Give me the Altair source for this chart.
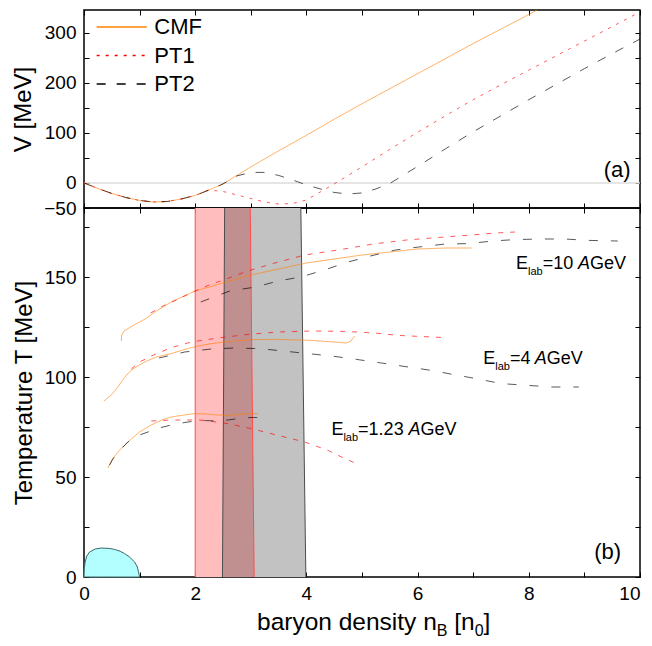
import altair as alt
import pandas as pd

FONT = "Liberation Sans"

# ---------------- data ----------------
models = ["CMF", "PT1", "PT2"]
model_colors = ["#ff8000", "#ff0000", "#000000"]

# panel (a): potential V [MeV] versus n_B [n0]
va_cmf_x = [0, 0.25, 0.5, 0.75, 1.0, 1.25, 1.5, 1.75, 2.0, 2.25, 2.5, 2.75, 3.0, 3.5, 4.0, 4.5, 5.0, 6.0, 7.0, 8.0, 8.4]
va_cmf_v = [0, -11, -21, -29, -35, -38, -37, -32, -25, -14, -2, 15, 32, 64, 95, 127, 158, 218, 278, 336, 360]
va_pt1_x = [0, 0.25, 0.5, 0.75, 1.0, 1.25, 1.5, 1.75, 2.0, 2.25, 2.5, 2.75, 3.0, 3.25, 3.5, 3.75, 4.0, 4.25, 4.5, 4.75,
            5.0, 5.5, 6.0, 6.5, 7.0, 7.5, 8.0, 8.5, 9.0, 9.5, 10.0]
va_pt1_v = [0, -11, -21, -29, -35, -38, -37, -32, -25, -14, -17, -24, -31, -38, -42, -41, -34, -18, -2, 15,
            32, 67, 101, 134, 166, 196, 225, 254, 283, 312, 341]
va_pt2_x = [0, 0.25, 0.5, 0.75, 1.0, 1.25, 1.5, 1.75, 2.0, 2.25, 2.5, 2.75, 3.0, 3.25, 3.5, 3.75, 4.0, 4.25, 4.5, 4.75,
            5.0, 5.25, 5.5, 6.0, 6.5, 7.0, 7.5, 8.0, 8.5, 9.0, 9.5, 10.0]
va_pt2_v = [0, -11, -21, -29, -35, -38, -37, -32, -25, -14, -2, 14, 21, 21, 15, 6, -4, -12, -19, -22,
            -20, -12, -1, 33, 68, 102, 134, 166, 197, 228, 258, 287]
zero_x = [0, 10]
zero_v = [0, 0]

# panel (b): trajectories T [MeV] versus n_B [n0]
cmf10_x = [0.67, 0.68, 0.72, 0.9, 1.1, 1.3, 1.6, 2.0, 2.5, 3.0, 3.5, 4.0, 4.5, 5.0, 5.5, 6.0, 6.5, 6.97]
cmf10_t = [118, 121, 123, 126, 129, 133, 138, 143, 147, 151, 154, 157, 159, 161, 162.5, 164, 164.5, 164.5]
pt1_10_x = [1.2, 1.42, 1.7, 1.96, 2.25, 2.53, 2.89, 3.43, 3.97, 4.57, 5.2, 5.8, 6.25, 6.97, 7.4, 7.75]
pt1_10_t = [132, 135.5, 139, 142.5, 146, 148.7, 152.5, 157, 161, 163.5, 166.5, 168.5, 169.5, 171, 172, 172.5]
pt2_10_x = [2.1, 2.62, 3.09, 3.49, 3.9, 4.32, 4.75, 5.18, 5.6, 6.02, 6.5, 6.92, 7.35, 7.75, 8.23, 8.65, 9.08, 9.6]
pt2_10_t = [137.5, 143, 145, 148, 150, 153.5, 157.5, 160.7, 163.5, 165, 166.5, 166.7, 168, 168.7, 169, 169, 168.3, 168]

cmf4_x = [0.36, 0.49, 0.61, 0.67, 0.78, 0.88, 1.09, 1.3, 1.57, 1.8, 2.05, 2.3, 2.53, 3.01, 3.49, 4.09, 4.5, 4.72, 4.8, 4.87]
cmf4_t = [88, 91, 95, 97.5, 101.5, 104, 107.5, 110, 111.7, 113.7, 115.5, 116.7, 117.5, 118.7, 118.8, 118.3, 117.5, 117, 118, 120.5]
pt1_4_x = [0.85, 1.0, 1.21, 1.57, 1.93, 2.41, 2.95, 3.49, 4.09, 4.69, 5.23, 5.65, 6.1, 6.49]
pt1_4_t = [104, 107.5, 110.5, 114.7, 117.5, 119.5, 121.3, 122.5, 123, 122.8, 122, 120.8, 120.2, 119.7]
pt2_4_x = [1.35, 1.81, 2.29, 2.71, 3.16, 3.58, 4.03, 4.48, 4.9, 5.35, 5.83, 6.25, 6.69, 7.09, 7.5, 7.99, 8.4, 8.9]
pt2_4_t = [109.5, 112.5, 114, 114.5, 114.2, 113, 111.7, 110.4, 108.8, 107, 105, 103.3, 101, 99, 96.7, 95.8, 95, 95]

cmf123_x = [0.43, 0.5, 0.61, 0.73, 0.85, 1.0, 1.21, 1.4, 1.57, 1.8, 1.99, 2.2, 2.41, 2.6, 2.77, 2.95, 3.13]
cmf123_t = [54.5, 58.5, 62.5, 66, 69, 72.5, 76, 78.5, 80, 81, 81.7, 81.5, 81, 80.8, 81.2, 81.7, 81.7]
pt1_123_x = [1.21, 1.6, 2.0, 2.17, 2.59, 3.01, 3.49, 3.97, 4.39, 4.69, 4.9]
pt1_123_t = [78, 78.5, 78.5, 78.3, 76.7, 74.2, 70.8, 67.5, 63.3, 59.2, 56.7]
pt2_123_x = [0.46, 0.52, 0.65, 0.79, 0.95, 1.15, 1.35, 1.57, 1.8, 1.99, 2.2, 2.41, 2.62, 2.83, 3.05, 3.25]
pt2_123_t = [56, 59, 63.5, 67.5, 70.5, 72.5, 74.5, 76, 77.2, 78, 78.2, 78, 78.6, 79.5, 79.8, 79.5]

# mixed-phase bands (edges at bottom / top of panel)
band_t = [-10, 195]
pt1_band_left = [2.0, 2.0]
pt1_band_right = [3.064, 2.986]
pt2_band_left = [2.488, 2.532]
pt2_band_right = [3.995, 3.895]

# liquid-gas region
dome_x = [0, 0.005, 0.02, 0.05, 0.1, 0.2, 0.31, 0.45, 0.55, 0.65, 0.73, 0.82, 0.91, 0.96, 1.0]
dome_t = [0, 4, 7.5, 10.5, 12.5, 14, 14.5, 14.3, 13.8, 12.9, 11.7, 10, 7.5, 5, 0]

# energy labels
lab_num = ["=10", "=4", "=1.23"]
lab_x0 = [7.77, 7.18, 4.45]
lab_x1 = [9.75, 8.97, 6.70]
lab_t = [154, 106.7, 70.8]

tag_a = {"x": [9.83], "y": [12], "t": ["(a)"]}
tag_b = {"x": [9.66], "y": [9.2], "t": ["(b)"]}


def long_df(curves):
    rows = []
    for model, curve, xs, ys in curves:
        for i, (xv, yv) in enumerate(zip(xs, ys)):
            rows.append({"model": model, "curve": curve, "idx": i, "x": xv, "y": yv})
    return pd.DataFrame(rows)


df_a = long_df([
    ("CMF", "a1", va_cmf_x, va_cmf_v),
    ("PT1", "a2", va_pt1_x, va_pt1_v),
    ("PT2", "a3", va_pt2_x, va_pt2_v),
])
df_b = long_df([
    ("CMF", "c10", cmf10_x, cmf10_t), ("PT1", "p10", pt1_10_x, pt1_10_t), ("PT2", "q10", pt2_10_x, pt2_10_t),
    ("CMF", "c4", cmf4_x, cmf4_t), ("PT1", "p4", pt1_4_x, pt1_4_t), ("PT2", "q4", pt2_4_x, pt2_4_t),
    ("CMF", "c1", cmf123_x, cmf123_t), ("PT1", "p1", pt1_123_x, pt1_123_t), ("PT2", "q1", pt2_123_x, pt2_123_t),
])
df_zero = pd.DataFrame({"x": zero_x, "y": zero_v})
df_pt1_band = pd.DataFrame({"T": band_t, "left": pt1_band_left, "right": pt1_band_right})
df_pt2_band = pd.DataFrame({"T": band_t, "left": pt2_band_left, "right": pt2_band_right})
df_overlap = pd.DataFrame({"T": band_t, "left": pt2_band_left, "right": pt1_band_right})
df_red_edges = long_df([("PT1", "l", pt1_band_left, band_t), ("PT1", "r", pt1_band_right, band_t)])
df_gray_edges = long_df([("PT2", "l", pt2_band_left, band_t), ("PT2", "r", pt2_band_right, band_t)])
df_dome = pd.DataFrame({"x": dome_x, "T": dome_t})
df_lab = pd.DataFrame({"num": lab_num, "x0": lab_x0, "x1": lab_x1, "T": lab_t})

# ---------------- scales / axes ----------------
TICK = 5
xscale = alt.Scale(domain=[0, 10], nice=False, zero=False)
ya_scale = alt.Scale(domain=[-50, 345], nice=False, zero=False)
yb_scale = alt.Scale(domain=[0, 184.5], nice=False, zero=False)
color_scale = alt.Scale(domain=models, range=model_colors)
dash_a = alt.Scale(domain=models, range=[[1, 0], [3, 6], [9, 11]])
dash_b = alt.Scale(domain=models, range=[[1, 0], [5, 7], [9, 13]])


def x_axis(orient, labels):
    kw = dict(orient=orient, values=list(range(11)), offset=-TICK, tickSize=TICK, tickColor="black",
              tickWidth=1, domain=False, grid=False, title=None, labels=labels)
    if labels:
        kw.update(labelExpr="datum.value % 2 == 0 ? datum.label : ''", labelFlush=False, labelOverlap=False,
                  labelAlign={"condition": {"test": "datum.value == 10", "value": "right"}, "value": "center"},
                  labelPadding=7, labelFontSize=19, labelFont=FONT, labelColor="black")
    return alt.Axis(**kw)


def y_axis(orient, values, label_expr=None, title=None):
    kw = dict(orient=orient, values=values, offset=-TICK, tickSize=TICK, tickColor="black", tickWidth=1,
              domain=False, grid=False, title=title, labels=label_expr is not None)
    if label_expr is not None:
        kw.update(labelExpr=label_expr, labelFlush=False, labelOverlap=False, labelPadding=8, labelFontSize=19,
                  labelFont=FONT, labelColor="black", titleFont=FONT, titleFontSize=24,
                  titleFontWeight="normal", titleColor="black", titlePadding=8)
    return alt.Axis(**kw)


ya_vals = list(range(-50, 301, 50))
yb_vals = list(range(0, 176, 25))

# ---------------- panel (a) ----------------
zero_line = alt.Chart(df_zero).mark_line(color="#dddddd", strokeWidth=1.5).encode(
    x=alt.X("x:Q", scale=xscale, axis=x_axis("top", False)),
    y=alt.Y("y:Q", scale=ya_scale, axis=y_axis("right", ya_vals)),
)

# legend key: a long horizontal stroke (custom path, 6 units wide) with a small symbol size
SYM = 278
sym_w = SYM ** 0.5
leg = alt.Legend(title=None, orient="none", legendX=10 + sym_w, legendY=6, symbolType="M-3,0L3,0",
                 symbolSize=SYM, symbolStrokeWidth=1.5, symbolOpacity=1, symbolFillColor="transparent",
                 labelFontSize=22, labelFont=FONT, labelColor="black", labelOffset=sym_w + 5,
                 rowPadding=6.5, padding=0, labelBaseline="middle")

lines_a = alt.Chart(df_a).mark_line(strokeWidth=1, opacity=0.65, clip=True).encode(
    x=alt.X("x:Q", scale=xscale, axis=x_axis("bottom", False)),
    y=alt.Y("y:Q", scale=ya_scale,
            axis=y_axis("left", ya_vals, "datum.value % 100 == 0 || datum.value == -50 ? datum.label : ''",
                        "V [MeV]")),
    color=alt.Color("model:N", scale=color_scale, legend=leg),
    strokeDash=alt.StrokeDash("model:N", scale=dash_a, legend=leg),
    order="idx:Q",
)

text_a = alt.Chart(pd.DataFrame(tag_a)).mark_text(align="right", baseline="alphabetic", fontSize=22,
                                                  font=FONT, color="black").encode(
    x=alt.X("x:Q", scale=xscale, axis=None),
    y=alt.Y("y:Q", scale=ya_scale, axis=None),
    text="t:N",
)

panel_a = alt.layer(zero_line, lines_a, text_a).resolve_axis(x="independent", y="independent").properties(
    width=556, height=198)

# ---------------- panel (b) ----------------
pt1_band = alt.Chart(df_pt1_band).mark_area(orient="horizontal", fill="#ffbdbd", clip=True).encode(
    y=alt.Y("T:Q", scale=yb_scale, axis=y_axis("right", yb_vals)),
    x=alt.X("left:Q", scale=xscale, axis=x_axis("top", False)),
    x2="right:Q",
)
pt2_band = alt.Chart(df_pt2_band).mark_area(orient="horizontal", fill="#c2c2c2", clip=True).encode(
    y=alt.Y("T:Q", scale=yb_scale, axis=None),
    x=alt.X("left:Q", scale=xscale, axis=None),
    x2="right:Q",
)
overlap = alt.Chart(df_overlap).mark_area(orient="horizontal", fill="#c09090", clip=True).encode(
    y=alt.Y("T:Q", scale=yb_scale, axis=None),
    x=alt.X("left:Q", scale=xscale, axis=None),
    x2="right:Q",
)
gray_edges = alt.Chart(df_gray_edges).mark_line(color="#4d4d4d", strokeWidth=1, clip=True).encode(
    x=alt.X("x:Q", scale=xscale, axis=None),
    y=alt.Y("y:Q", scale=yb_scale, axis=None),
    detail="curve:N", order="idx:Q",
)
red_edges = alt.Chart(df_red_edges).mark_line(color="#ff4d4d", strokeWidth=1, clip=True).encode(
    x=alt.X("x:Q", scale=xscale, axis=None),
    y=alt.Y("y:Q", scale=yb_scale, axis=None),
    detail="curve:N", order="idx:Q",
)
dome = alt.Chart(df_dome).mark_area(fill="#b3ffff", stroke="#3d6868", strokeWidth=1).encode(
    x=alt.X("x:Q", scale=xscale, axis=x_axis("bottom", True)),
    y=alt.Y("T:Q", scale=yb_scale,
            axis=y_axis("left", yb_vals, "datum.value % 50 == 0 ? datum.label : ''", "Temperature T [MeV]")),
)
lines_b = alt.Chart(df_b).mark_line(strokeWidth=1, opacity=0.65, clip=True).encode(
    x=alt.X("x:Q", scale=xscale, axis=None),
    y=alt.Y("y:Q", scale=yb_scale, axis=None),
    color=alt.Color("model:N", scale=color_scale, legend=None),
    strokeDash=alt.StrokeDash("model:N", scale=dash_b, legend=None),
    detail="curve:N",
    order="idx:Q",
)

FS = 18
SUB = 11
w_E = 0.667 * FS
w_lab = (0.222 + 0.556 + 0.556) * SUB
w_GeV = (0.778 + 0.556 + 0.667) * FS


def lab_piece(xfield, text=None, field=None, **mk):
    base = dict(baseline="alphabetic", font=FONT, color="black")
    base.update(mk)
    enc = dict(x=alt.X(f"{xfield}:Q", scale=xscale, axis=None), y=alt.Y("T:Q", scale=yb_scale, axis=None))
    if field is not None:
        enc["text"] = f"{field}:N"
    else:
        base["text"] = text
    return alt.Chart(df_lab).mark_text(**base).encode(**enc)


lab_layers = [
    lab_piece("x0", "E", align="left", fontSize=FS),
    lab_piece("x0", "lab", align="left", fontSize=SUB, dx=w_E, dy=6),
    lab_piece("x0", field="num", align="left", fontSize=FS, dx=w_E + w_lab),
    lab_piece("x1", "A", align="right", fontSize=FS, fontStyle="italic", dx=-w_GeV),
    lab_piece("x1", "GeV", align="right", fontSize=FS),
]

text_b = alt.Chart(pd.DataFrame(tag_b)).mark_text(align="right", baseline="alphabetic", fontSize=22,
                                                  font=FONT, color="black").encode(
    x=alt.X("x:Q", scale=xscale, axis=None),
    y=alt.Y("y:Q", scale=yb_scale, axis=None),
    text="t:N",
)

# x-axis title: baryon density n_B [n_0]
TF = 24.5
TS = 16
title_y = 369 + 53
tx0 = 173
tx1 = tx0 + 7.337 * TF
tx2 = tx1 + 0.667 * TS + 0.278 * TF
tx3 = tx2 + (0.278 + 0.556) * TF
tx4 = tx3 + 0.556 * TS
title_pieces = [("baryon density n", tx0, TF, 0), ("B", tx1, TS, 6), ("[n", tx2, TF, 0), ("0", tx3, TS, 6),
                ("]", tx4, TF, 0)]
title_layers = []
for txt, px, fs, dy in title_pieces:
    title_layers.append(
        alt.Chart(pd.DataFrame({"t": [txt]})).mark_text(align="left", baseline="alphabetic", fontSize=fs,
                                                        font=FONT, color="black", dy=dy).encode(
            x=alt.value(px), y=alt.value(title_y), text="t:N"))

panel_b = alt.layer(pt1_band, pt2_band, overlap, gray_edges, red_edges, dome, lines_b, *lab_layers, text_b,
                    *title_layers).resolve_axis(x="independent", y="independent").properties(width=556, height=369)

chart = alt.vconcat(panel_a, panel_b, spacing=0, bounds="flush").resolve_scale(
    color="independent", strokeDash="independent").properties(
    padding={"left": 3, "right": 0, "top": 0, "bottom": 0}).configure(font=FONT).configure_view(
    stroke="black", strokeWidth=1.5)

chart.save("out.html", embed_options={"renderer": "svg", "actions": False})
